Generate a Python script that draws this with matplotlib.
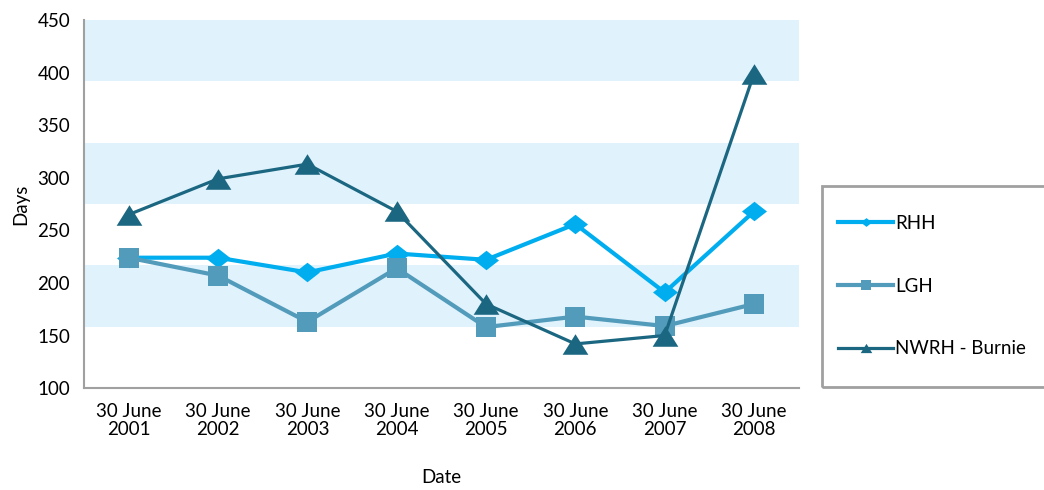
import matplotlib.pyplot as plt
import numpy as np
from matplotlib.patches import Rectangle

# median waiting days at 30 June each year
dates = ['30 June\n2001', '30 June\n2002', '30 June\n2003', '30 June\n2004',
         '30 June\n2005', '30 June\n2006', '30 June\n2007', '30 June\n2008']
rhh = [224, 224, 210, 228, 222, 256, 191, 268]
lgh = [224, 207, 163, 214, 158, 168, 159, 180]
nwrh = [265, 299, 313, 268, 180, 142, 150, 399]
labels = ['RHH', 'LGH', 'NWRH - Burnie']

colors = ['#00AEEF', '#529BBB', '#1B6781']
band_color = '#E0F2FC'

# flattened marker shapes
diamond = [(-1, 0), (0, 0.78), (1, 0), (0, -0.78), (-1, 0)]
triangle = [(-1, -0.8), (1, -0.8), (0, 0.8), (-1, -0.8)]

fs = 13.5
plt.rcParams['font.family'] = ['Lato', 'DejaVu Sans']
plt.rcParams['font.size'] = fs

fig = plt.figure(figsize=(10.44, 4.9), dpi=100)
ax = fig.add_axes([0.0805, 0.208, 0.6845, 0.751])

ymin, ymax = 100, 450
step = (ymax - ymin) / 6
for k in range(1, 6, 2):
    ax.axhspan(ymin + k * step, ymin + (k + 1) * step, color=band_color, lw=0, zorder=0)

x = np.arange(len(dates))
ax.plot(x, rhh, color=colors[0], lw=3, marker=diamond, ms=18, mew=0, label=labels[0], zorder=3)
ax.plot(x, lgh, color=colors[1], lw=3, marker='s', ms=15, mew=0, label=labels[1], zorder=4)
ax.plot(x, nwrh, color=colors[2], lw=2.3, marker=triangle, ms=18.5, mew=0, label=labels[2], zorder=5)

ax.set_xlim(-0.5, len(dates) - 0.5)
ax.set_ylim(ymin, ymax)
ax.set_yticks(np.arange(100, 451, 50))
ax.set_xticks(x)
ax.set_xticklabels(dates, linespacing=1.05)
ax.tick_params(axis='both', length=0, labelsize=fs)
ax.tick_params(axis='y', pad=10)
ax.tick_params(axis='x', pad=11)

for side in ['top', 'right']:
    ax.spines[side].set_visible(False)
for side in ['left', 'bottom']:
    ax.spines[side].set_color('#A0A0A0')
    ax.spines[side].set_linewidth(1.5)

ax.set_ylabel('Days', fontsize=fs, labelpad=6)
ax.set_xlabel('Date', fontsize=fs, labelpad=22)

# legend box on the right
fig.patches.append(Rectangle((0.7874, 0.2112), 0.25, 0.4092, transform=fig.transFigure,
                             fill=False, edgecolor='#A0A0A0', lw=2))
fig.legend(loc='upper left', bbox_to_anchor=(0.8027, 0.562), frameon=False,
           handlelength=2.95, handletextpad=0.1, labelspacing=2.45, borderpad=0,
           borderaxespad=0, markerscale=0.45, fontsize=fs)

fig.savefig('out.png', dpi=100)
